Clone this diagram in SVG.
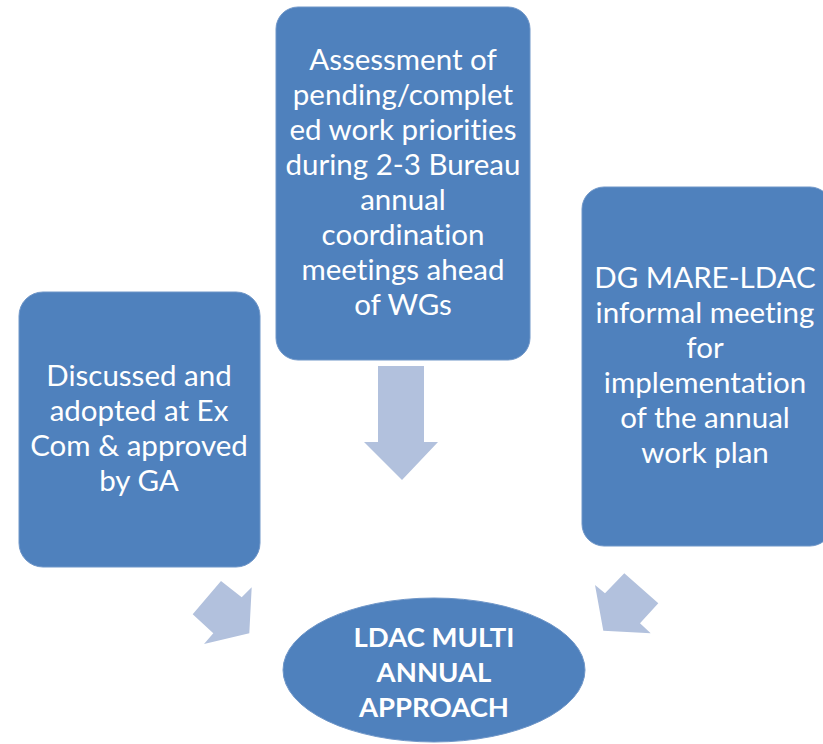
<svg xmlns="http://www.w3.org/2000/svg" width="823" height="744" viewBox="0 0 823 744">
<style>
.box{fill:#4F81BD;stroke:#6F96C8;stroke-width:1}
.arrow{fill:#B2C1DD}
.t{font-family:Lato,"Open Sans","Liberation Sans",sans-serif;font-size:29.5px;fill:#FFFFFF;text-anchor:middle;font-variant-ligatures:none;font-feature-settings:"liga" 0}
.b{font-weight:bold;font-size:27.5px}
</style>
<rect width="823" height="744" fill="#FFFFFF"/>
<g id="connectors">
<polygon class="arrow" points="378,366 424,366 424,442 438,442 402,480 364,442 378,442"/>
<polygon class="arrow" points="221,581 241.7,597.3 251.7,587.3 249.3,633.3 204,644 213.3,633.3 192.7,614.3"/>
<polygon class="arrow" points="595,585 605,593.3 624.3,573.3 658.3,603.3 640,623.3 650.7,633.3 603.3,630.7"/>
</g>
<g id="node-assessment">
<rect class="box" x="276" y="7" width="254" height="353" rx="22"/>
<text class="t" x="403" y="70">Assessment of</text>
<text class="t" x="403" y="105">pending/complet</text>
<text class="t" x="403" y="140">ed work priorities</text>
<text class="t" x="403" y="175">during 2-3 Bureau</text>
<text class="t" x="403" y="210">annual</text>
<text class="t" x="403" y="245">coordination</text>
<text class="t" x="403" y="280">meetings ahead</text>
<text class="t" x="403" y="315">of WGs</text>
</g>
<g id="node-dgmare">
<rect class="box" x="582" y="187" width="250" height="359" rx="22"/>
<text class="t" x="705" y="288">DG MARE-LDAC</text>
<text class="t" x="705" y="323">informal meeting</text>
<text class="t" x="705" y="358">for</text>
<text class="t" x="705" y="393">implementation</text>
<text class="t" x="705" y="428">of the annual</text>
<text class="t" x="705" y="463">work plan</text>
</g>
<g id="node-discussed">
<rect class="box" x="19" y="292" width="241" height="275" rx="24"/>
<text class="t" x="139" y="386">Discussed and</text>
<text class="t" x="139" y="421">adopted at Ex</text>
<text class="t" x="139" y="456">Com &amp; approved</text>
<text class="t" x="139" y="491">by GA</text>
</g>
<g id="node-ldac">
<ellipse class="box" cx="434" cy="670" rx="151" ry="72"/>
<text class="t b" x="434" y="647">LDAC MULTI</text>
<text class="t b" x="434" y="682">ANNUAL</text>
<text class="t b" x="434" y="717">APPROACH</text>
</g>
</svg>
